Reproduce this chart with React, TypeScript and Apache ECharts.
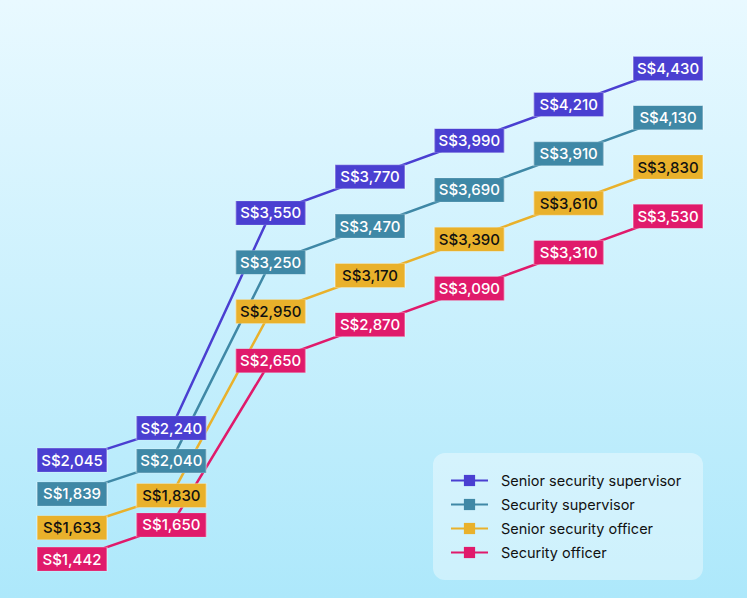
import React, { useEffect, useRef } from "react";
import * as echarts from "echarts";

const categories = ["1", "2", "3", "4", "5", "6", "7"];
const seriesNames = [
  "Senior security supervisor",
  "Security supervisor",
  "Senior security officer",
  "Security officer",
];
const seniorSupervisor = [2045, 2240, 3550, 3770, 3990, 4210, 4430];
const supervisor = [1839, 2040, 3250, 3470, 3690, 3910, 4130];
const seniorOfficer = [1633, 1830, 2950, 3170, 3390, 3610, 3830];
const officer = [1442, 1650, 2650, 2870, 3090, 3310, 3530];

const colors = ["#4a3fd1", "#3f88a6", "#e9b12b", "#e01a6b"];
const textColors = ["#ffffff", "#ffffff", "#111111", "#ffffff"];

const fmt = (v: number) => "S$" + v.toLocaleString("en-US");

export default function App() {
  const ref = useRef<HTMLDivElement>(null);
  useEffect(() => {
    document.body.style.margin = "0";
    const chart = echarts.init(ref.current!, null, { renderer: "svg" });
    const datasets = [seniorSupervisor, supervisor, seniorOfficer, officer];
    const lineSeries = datasets.map((d, i) => ({
      name: seriesNames[i],
      type: "line",
      data: d,
      symbol: "rect",
      showSymbol: false,
      z: 2,
      lineStyle: { color: colors[i], width: 2.5 },
      itemStyle: { color: colors[i] },
    }));
    const boxSeries = datasets.map((d, i) => ({
      name: seriesNames[i],
      type: "scatter",
      data: d,
      symbol: "rect",
      symbolSize: [70, 24],
      z: 3,
      itemStyle: {
        color: colors[i],
        opacity: 1,
        borderColor: "rgba(255,255,255,0.35)",
        borderWidth: 1,
      },
      label: {
        show: true,
        position: "inside",
        formatter: (p: any) => fmt(p.value),
        color: textColors[i],
        fontFamily: "Inter",
        fontSize: 15,
        fontWeight: 500,
      },
    }));
    chart.setOption({
      animation: false,
      backgroundColor: {
        type: "linear",
        x: 0,
        y: 0,
        x2: 0,
        y2: 1,
        colorStops: [
          { offset: 0, color: "#e9f9ff" },
          { offset: 1, color: "#ade8fb" },
        ],
      },
      grid: { left: 72, right: 79, top: 57, bottom: 32 },
      xAxis: {
        type: "category",
        data: categories,
        boundaryGap: false,
        show: false,
      },
      yAxis: { type: "value", min: 1400, max: 4500, show: false },
      graphic: [
        {
          type: "rect",
          shape: { x: 433, y: 453, width: 270, height: 127, r: 12 },
          style: { fill: "rgba(255,255,255,0.38)" },
          z: -1,
        },
      ],
      legend: {
        orient: "vertical",
        left: 450,
        top: 473,
        padding: 0,
        itemWidth: 37,
        itemHeight: 14,
        itemGap: 9,
        data: seriesNames,
        textStyle: {
          fontFamily: "Inter",
          fontSize: 14.5,
          lineHeight: 14,
          color: "#111111",
          padding: [0, 0, 0, 8],
        },
      },
      series: [...lineSeries, ...boxSeries],
    });
    return () => chart.dispose();
  }, []);
  return <div ref={ref} style={{ width: 747, height: 598 }} />;
}
